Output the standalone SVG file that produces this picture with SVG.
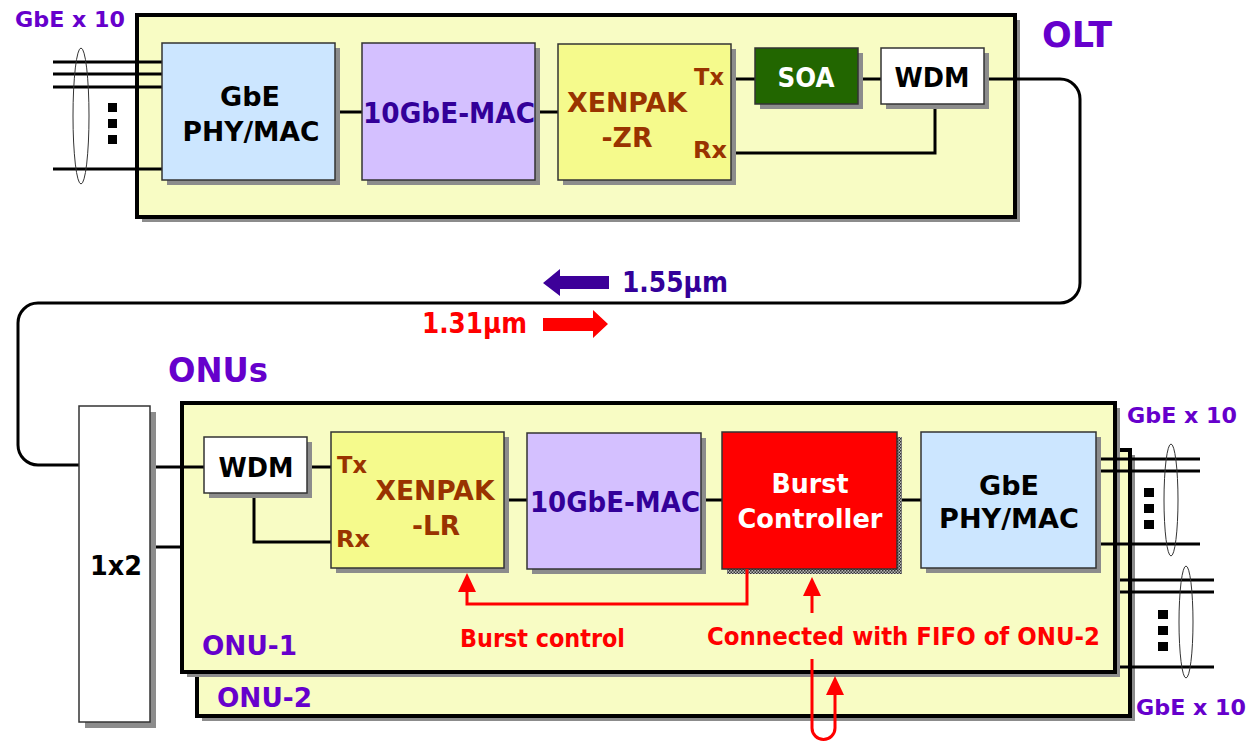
<svg xmlns="http://www.w3.org/2000/svg" width="1251" height="746" viewBox="0 0 1251 746">
<defs>
<style>
text{font-family:"DejaVu Sans",Verdana,sans-serif;font-weight:bold}
.cont{fill:#F8FCC4;stroke:#000;stroke-width:4}
.csh{fill:#8c8c8c}
.sh{fill:#8c8c8c}
.box{stroke:#333;stroke-width:1.5}
.wire{fill:none;stroke:#000;stroke-width:3}
.red{fill:none;stroke:#FF0000;stroke-width:3}
.ell{fill:none;stroke:#333;stroke-width:1}
.pur{fill:#6600CC}
.dk{fill:#330099}
.br{fill:#993300}
.rt{fill:#FF0000}
.mid{text-anchor:middle}
</style>
<pattern id="dots" width="3" height="3" patternUnits="userSpaceOnUse">
<rect width="3" height="3" fill="#bbb"/>
<rect width="1.5" height="1.5" fill="#333"/>
<rect x="1.5" y="1.5" width="1.5" height="1.5" fill="#333"/>
</pattern>
<marker id="rh" markerUnits="userSpaceOnUse" markerWidth="20" markerHeight="20" refX="0" refY="9" orient="auto" viewBox="0 0 20 18">
<path d="M0,0 L19,9 L0,18 z" fill="#FF0000"/>
</marker>
</defs>

<g id="onu2">
<rect class="csh" x="202" y="455" width="933" height="266"/>
<rect class="cont" x="197" y="450" width="933" height="266"/>
<text class="pur" x="217" y="707" font-size="27" textLength="95" lengthAdjust="spacingAndGlyphs">ONU-2</text>
</g>
<g id="onu1">
<rect class="csh" x="187" y="408" width="933" height="269"/>
<rect class="cont" x="182" y="403" width="933" height="269"/>
<text class="pur" x="202" y="655" font-size="27" textLength="95" lengthAdjust="spacingAndGlyphs">ONU-1</text>
</g>
<g id="olt">
<rect class="csh" x="142" y="20" width="878" height="202"/>
<rect class="cont" x="137" y="15" width="878" height="202"/>
<text class="pur" x="1042" y="47" font-size="36" textLength="70" lengthAdjust="spacingAndGlyphs">OLT</text>
</g>

<g id="connectors">
<path class="wire" d="M53 62H162M53 74H162M53 87H162M53 169H162"/>
<path class="wire" d="M335 112H362M535 112H558M731 79H755M858 79H881"/>
<path class="wire" d="M731 153H935V104"/>
<path class="wire" d="M984 79H1060A20 20 0 0 1 1080 99V283A20 20 0 0 1 1060 303H38A20 20 0 0 0 18 323V445A20 20 0 0 0 38 465H79"/>
<path class="wire" d="M150 467H204M307 467H331M254 493V542H331M150 547H182"/>
<path class="wire" d="M504 500H527M701 500H722M897 500H921"/>
<path class="wire" d="M1096 459H1200M1096 471H1200M1096 544H1200"/>
<path class="wire" d="M1120 580H1214M1120 592H1214M1120 667H1214"/>
<ellipse class="ell" cx="81" cy="116" rx="8" ry="68"/>
<ellipse class="ell" cx="1171" cy="500" rx="7" ry="56"/>
<ellipse class="ell" cx="1186" cy="622" rx="7" ry="56"/>
</g>

<g id="dots-olt">
<rect x="108" y="103" width="9" height="9"/>
<rect x="108" y="119" width="9" height="9"/>
<rect x="108" y="135" width="9" height="9"/>
</g>
<g id="dots-onu1">
<rect x="1144" y="488" width="10" height="9"/>
<rect x="1144" y="504" width="10" height="9"/>
<rect x="1144" y="520" width="10" height="9"/>
</g>
<g id="dots-onu2">
<rect x="1158" y="610" width="10" height="9"/>
<rect x="1158" y="626" width="10" height="9"/>
<rect x="1158" y="642" width="10" height="9"/>
</g>

<g id="olt-gbe">
<rect class="sh" x="167" y="48" width="173" height="137"/>
<rect class="box" x="162" y="43" width="173" height="137" fill="#CCE6FF"/>
<text class="mid" x="250" y="106" font-size="26" textLength="60" lengthAdjust="spacingAndGlyphs">GbE</text>
<text class="mid" x="251" y="141" font-size="26" textLength="137" lengthAdjust="spacingAndGlyphs">PHY/MAC</text>
</g>
<g id="olt-mac">
<rect class="sh" x="367" y="48" width="173" height="137"/>
<rect class="box" x="362" y="43" width="173" height="137" fill="#D4C0FF"/>
<text class="mid dk" x="449" y="123" font-size="28" textLength="172" lengthAdjust="spacingAndGlyphs">10GbE-MAC</text>
</g>
<g id="olt-xenpak">
<rect class="sh" x="563" y="49" width="173" height="136"/>
<rect class="box" x="558" y="44" width="173" height="136" fill="#F5FA8C"/>
<text class="mid br" x="627" y="112" font-size="27" textLength="120" lengthAdjust="spacingAndGlyphs">XENPAK</text>
<text class="mid br" x="627" y="147" font-size="27" textLength="51" lengthAdjust="spacingAndGlyphs">-ZR</text>
<text class="br" x="694" y="85" font-size="23" textLength="30" lengthAdjust="spacingAndGlyphs">Tx</text>
<text class="br" x="693" y="158" font-size="23" textLength="34" lengthAdjust="spacingAndGlyphs">Rx</text>
</g>
<g id="olt-soa">
<rect class="sh" x="760" y="53" width="103" height="56"/>
<rect class="box" x="755" y="48" width="103" height="56" fill="#226600"/>
<text class="mid" x="806" y="87" font-size="27" textLength="57" lengthAdjust="spacingAndGlyphs" fill="#fff">SOA</text>
</g>
<g id="olt-wdm">
<rect class="sh" x="886" y="53" width="103" height="56"/>
<rect class="box" x="881" y="48" width="103" height="56" fill="#fff"/>
<text class="mid" x="932" y="87" font-size="27" textLength="75" lengthAdjust="spacingAndGlyphs">WDM</text>
</g>

<g id="splitter">
<rect class="sh" x="85" y="412" width="71" height="316"/>
<rect class="box" x="79" y="406" width="71" height="316" fill="#fff"/>
<text class="mid" x="116" y="575" font-size="27" textLength="52" lengthAdjust="spacingAndGlyphs">1x2</text>
</g>
<g id="onu-wdm">
<rect class="sh" x="209" y="442" width="103" height="56"/>
<rect class="box" x="204" y="437" width="103" height="56" fill="#fff"/>
<text class="mid" x="256" y="477" font-size="27" textLength="75" lengthAdjust="spacingAndGlyphs">WDM</text>
</g>
<g id="onu-xenpak">
<rect class="sh" x="336" y="437" width="173" height="136"/>
<rect class="box" x="331" y="432" width="173" height="136" fill="#F5FA8C"/>
<text class="mid br" x="435" y="500" font-size="27" textLength="119" lengthAdjust="spacingAndGlyphs">XENPAK</text>
<text class="mid br" x="436" y="535" font-size="27" textLength="48" lengthAdjust="spacingAndGlyphs">-LR</text>
<text class="br" x="337" y="473" font-size="23" textLength="30" lengthAdjust="spacingAndGlyphs">Tx</text>
<text class="br" x="336" y="547" font-size="23" textLength="34" lengthAdjust="spacingAndGlyphs">Rx</text>
</g>
<g id="onu-mac">
<rect class="sh" x="532" y="438" width="174" height="136"/>
<rect class="box" x="527" y="433" width="174" height="136" fill="#D4C0FF"/>
<text class="mid dk" x="615" y="512" font-size="28" textLength="170" lengthAdjust="spacingAndGlyphs">10GbE-MAC</text>
</g>
<g id="burst">
<rect x="727" y="437" width="175" height="137" fill="url(#dots)"/>
<rect class="box" x="722" y="432" width="175" height="137" fill="#FF0000"/>
<text class="mid" x="810" y="493" font-size="26" textLength="77" lengthAdjust="spacingAndGlyphs" fill="#fff">Burst</text>
<text class="mid" x="810" y="528" font-size="26" textLength="145" lengthAdjust="spacingAndGlyphs" fill="#fff">Controller</text>
</g>
<g id="onu-gbe">
<rect class="sh" x="926" y="437" width="175" height="136"/>
<rect class="box" x="921" y="432" width="175" height="136" fill="#CCE6FF"/>
<text class="mid" x="1009" y="495" font-size="26" textLength="60" lengthAdjust="spacingAndGlyphs">GbE</text>
<text class="mid" x="1009" y="528" font-size="26" textLength="140" lengthAdjust="spacingAndGlyphs">PHY/MAC</text>
</g>

<g id="control-connectors">
<path class="red" d="M747 569V604H467V592" marker-end="url(#rh)"/>
<path class="red" d="M812 613V596" marker-end="url(#rh)"/>
<path class="red" d="M812 659V728A11.5 11.5 0 0 0 835 728V695" marker-end="url(#rh)"/>
</g>

<g id="labels">
<text class="pur" x="15" y="27" font-size="22" textLength="110" lengthAdjust="spacingAndGlyphs">GbE x 10</text>
<text class="pur" x="1127" y="423" font-size="22" textLength="110" lengthAdjust="spacingAndGlyphs">GbE x 10</text>
<text class="pur" x="1136" y="715" font-size="22" textLength="110" lengthAdjust="spacingAndGlyphs">GbE x 10</text>
<text class="pur" x="168" y="382" font-size="33" textLength="100" lengthAdjust="spacingAndGlyphs">ONUs</text>
<text class="rt" x="460" y="647" font-size="24" textLength="165" lengthAdjust="spacingAndGlyphs">Burst control</text>
<text class="rt" x="707" y="645" font-size="24" textLength="393" lengthAdjust="spacingAndGlyphs">Connected with FIFO of ONU-2</text>
<text class="dk" x="622" y="292" font-size="28" textLength="106" lengthAdjust="spacingAndGlyphs">1.55µm</text>
<text class="rt" x="422" y="333" font-size="28" textLength="105" lengthAdjust="spacingAndGlyphs">1.31µm</text>
</g>
<g id="wavelength-arrows">
<polygon points="543,283 560,269 560,276 609,276 609,289 560,289 560,296" fill="#3D0099"/>
<polygon points="608,324 593,310 593,318 543,318 543,331 593,331 593,338" fill="#FF0000"/>
</g>
</svg>
